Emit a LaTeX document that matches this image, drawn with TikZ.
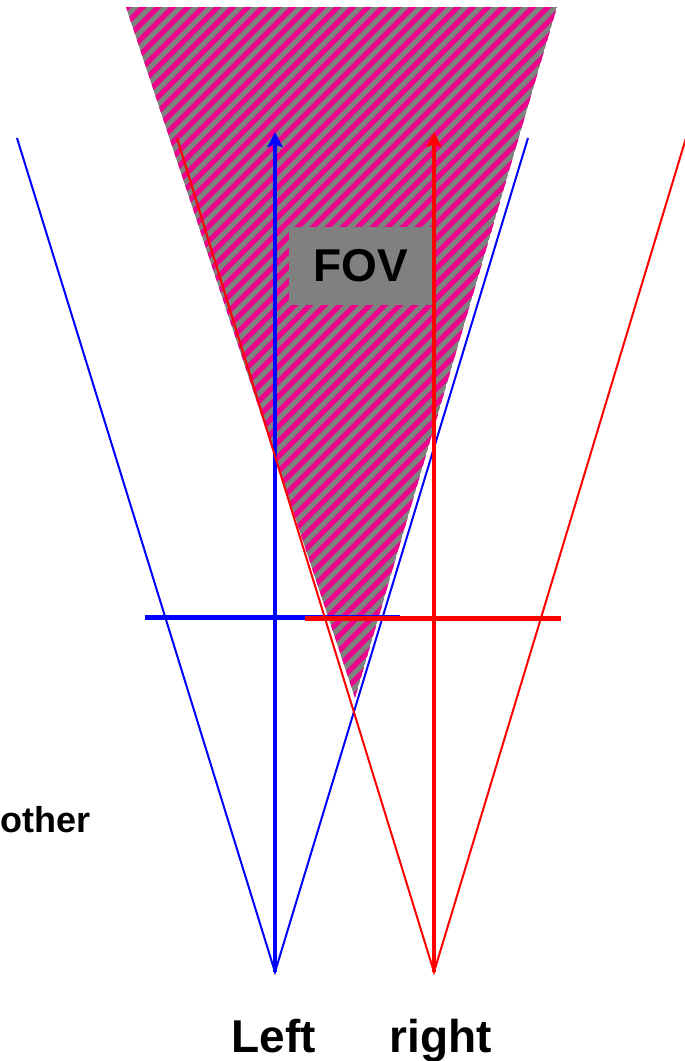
\documentclass[tikz,border=0pt]{standalone}
\usepackage{fontspec}
\setmainfont{Liberation Sans}
\usetikzlibrary{arrows.meta}
\begin{document}
\begin{tikzpicture}[x=1pt,y=-1pt,
  bound/.style={line width=2pt},
  axisarrow/.style={line width=4.5pt,-{Stealth[length=15pt,width=15pt,inset=2.5pt]}},
  hbar/.style={line width=5pt},
  stripe/.style={magenta,line width=5pt},
  lbl/.style={font=\bfseries\fontsize{46}{50}\selectfont,inner sep=0pt},
  smalllbl/.style={font=\bfseries\fontsize{36}{40}\selectfont,inner sep=0pt}]
\useasboundingbox (0,0) rectangle (685,1061);
% field of view region
\coordinate (fa) at (126,7);
\coordinate (fb) at (557,7);
\coordinate (fc) at (355,698);
\begin{scope}
  \clip (fa) -- (fb) -- (fc) -- cycle;
  \fill[gray] (fa) -- (fb) -- (fc) -- cycle;
  \foreach \c in {0,15,...,1500} {
    \draw[stripe] (\c,0) -- ++(-800,800);
  }
\end{scope}
\node[lbl,fill=gray,minimum width=145pt,minimum height=78pt] (fov) at (361,266) {FOV};
% cameras
\coordinate (camL) at (275,972);
\coordinate (camR) at (434,972);
\coordinate (tipL) at (275,132);
\coordinate (tipR) at (434,132);
\coordinate (bLl) at (17,138);
\coordinate (bLr) at (528,138);
\coordinate (bRl) at (177,138);
\coordinate (bRr) at (686,138);
\coordinate (hLa) at (145,617.5);
\coordinate (hLb) at (400,617.5);
\coordinate (hRa) at (305,618.5);
\coordinate (hRb) at (561,618.5);
% left camera (blue)
\draw[bound,blue] (bLl) -- (camL) -- (bLr);
\draw[axisarrow,blue] (camL) -- (tipL);
\draw[hbar,blue] (hLa) -- (hLb);
% right camera (red)
\draw[bound,red] (bRl) -- (camR) -- (bRr);
\draw[axisarrow,red] (camR) -- (tipR);
\draw[hbar,red] (hRa) -- (hRb);
% labels
\node[lbl,anchor=base] (left) at (273.5,1052) {Left};
\node[lbl,anchor=base] (right) at (441,1052) {right};
\node[smalllbl,anchor=base east] (other) at (91,832) {other};
\end{tikzpicture}
\end{document}
